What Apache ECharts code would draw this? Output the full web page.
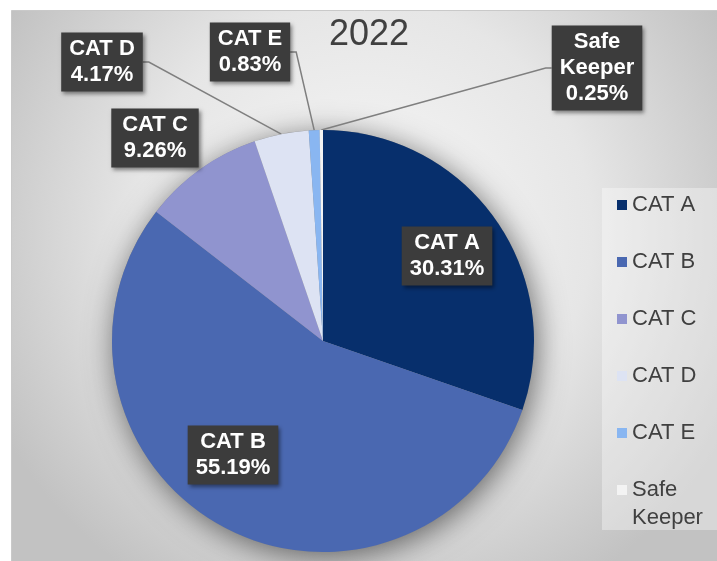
<!DOCTYPE html>
<html>
<head>
<meta charset="utf-8">
<script src="https://cdn.jsdelivr.net/npm/echarts@6/dist/echarts.min.js"></script>
<style>
  html, body { margin: 0; padding: 0; background: #fff; }
  #chart { width: 717px; height: 561px; }
</style>
</head>
<body>
<div id="chart"></div>
<script>
// data
const categories = ['CAT A', 'CAT B', 'CAT C', 'CAT D', 'CAT E', 'Safe Keeper'];
const shares = [30.31, 55.19, 9.26, 4.17, 0.83, 0.25];
const sliceColors = ['#072f6c', '#4a68b1', '#9094cf', '#dde3f3', '#89b6f1', '#f3f3f3'];
const chartTitle = '2022';

// where each boxed label sits (centre, px) and whether a leader line runs to it
const labelSpots = [[447, 256], [233, 455], [155, 138], [102, 62], [250, 52], [597, 68]];
const hasLeader = [false, false, false, true, true, true];

const font = "'Liberation Sans', Arial, sans-serif";
const wrapName = name => name.indexOf('CAT') === 0 ? name : name.replace(' ', '\n');
const legendText = { fontFamily: font, fontSize: 22, lineHeight: 28, color: '#404040' };

const chart = echarts.init(document.getElementById('chart'));

chart.setOption({
  animation: false,
  graphic: [
    {
      type: 'rect', left: 11, top: 10, z: -10, silent: true,
      shape: { width: 706, height: 551 },
      style: {
        fill: new echarts.graphic.RadialGradient(0.5, 0.4, 0.75, [
          { offset: 0, color: '#f8f8f8' },
          { offset: 0.55, color: '#e6e6e6' },
          { offset: 1, color: '#c2c2c2' }
        ]),
        stroke: '#c9c9c9', lineWidth: 1
      }
    },
    {
      // legend panel
      type: 'rect', left: 602, top: 188, z: -5, silent: true,
      shape: { width: 115, height: 342 },
      style: { fill: 'rgba(255,255,255,0.35)' }
    }
  ],
  title: {
    text: chartTitle,
    left: 329, top: 17, padding: 0,
    textStyle: { fontFamily: font, fontSize: 36, fontWeight: 'normal', color: '#404040' }
  },
  legend: [
    {
      orient: 'vertical',
      left: 617, top: 191, padding: 0,
      icon: 'rect', itemWidth: 10, itemHeight: 10, itemGap: 29,
      textStyle: legendText,
      data: categories.filter(n => n.indexOf('CAT') === 0)
    },
    {
      // two-line entry: an empty first line keeps the icon level with "Safe"
      orient: 'vertical',
      left: 617, top: 448, padding: 0,
      icon: 'rect', itemWidth: 10, itemHeight: 10,
      textStyle: legendText,
      data: categories.filter(n => n.indexOf('CAT') !== 0),
      formatter: n => '\n' + wrapName(n)
    }
  ],
  series: [
    {
      // soft drop shadow under the whole pie
      type: 'pie', silent: true, z: 1,
      center: [323, 341], radius: 211,
      label: { show: false }, labelLine: { show: false },
      data: [{ value: 1, name: 'shadow', itemStyle: { color: '#8a8a8a', shadowBlur: 30, shadowColor: 'rgba(0,0,0,0.55)', shadowOffsetX: 3, shadowOffsetY: 5 } }]
    },
    {
      type: 'pie', name: chartTitle, z: 2,
      center: [323, 341], radius: 211,
      startAngle: 90, clockwise: true,
      data: categories.map((n, i) => ({
        name: n, value: shares[i],
        itemStyle: { color: sliceColors[i] },
        labelLine: { show: hasLeader[i] }
      })),
      label: {
        show: true, position: 'outside',
        formatter: p => wrapName(p.name) + '\n' + p.value.toFixed(2) + '%',
        color: '#fff', fontFamily: font, fontWeight: 'bold', fontSize: 22, lineHeight: 26,
        backgroundColor: '#3c3c3c', padding: [4, 8, 3, 8], align: 'center',
        shadowBlur: 4, shadowColor: 'rgba(0,0,0,0.45)', shadowOffsetX: 2, shadowOffsetY: 2
      },
      labelLine: { show: true, length: 10, length2: 6, lineStyle: { color: '#7f7f7f', width: 1.5 } },
      labelLayout: p => {
        const [cx, cy] = labelSpots[p.dataIndex];
        const out = { x: cx, y: cy, align: 'center', verticalAlign: 'middle' };
        const pts = p.labelLinePoints;
        if (hasLeader[p.dataIndex] && pts) {
          const anchor = pts[0];
          const side = anchor[0] > cx ? 1 : -1;
          const ex = cx + side * p.labelRect.width / 2;
          out.labelLinePoints = [anchor, [ex + side * 6, cy], [ex, cy]];
        }
        return out;
      }
    }
  ]
});
</script>
</body>
</html>
